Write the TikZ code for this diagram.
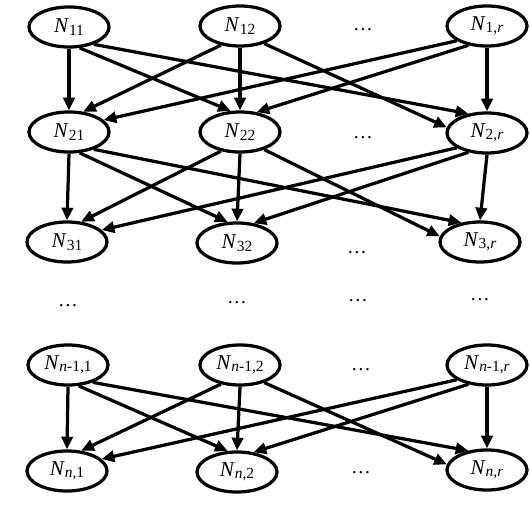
\documentclass[tikz,border=0pt]{standalone}
\usepackage{fontspec}
\setmainfont{Liberation Serif}
\usetikzlibrary{shapes.geometric,arrows.meta}

% rótulo N com índice
\newcommand{\rot}[1]{\textit{N}\raisebox{-0.25ex}{\fontsize{11}{12}\selectfont #1}}

\tikzset{
  elipse/.style={ellipse, draw, line width=2.3pt, minimum width=2cm, minimum height=1cm,
    inner sep=0pt, font=\fontsize{15}{17}\selectfont},
  pontos/.style={font=\fontsize{14}{16}\selectfont},
  seta/.style={line width=2.3pt, -{Triangle[length=9pt,width=8pt]}}
}

\begin{document}
\begin{tikzpicture}[x=0.025cm, y=-0.025cm]
  \useasboundingbox (0,0) rectangle (530,530);

  % Linha 1
  \node[elipse] (n11) at (69,27) {\rot{11}};
  \node[elipse] (n12) at (240,26) {\rot{12}};
  \node[pontos] (d1) at (363,30) {\dots};
  \node[elipse] (n1r) at (487,26) {\rot{1,\textit{r}}};

  % Linha 2
  \node[elipse] (n21) at (69,132) {\rot{21}};
  \node[elipse] (n22) at (240,132) {\rot{22}};
  \node[pontos] (d2) at (363,138) {\dots};
  \node[elipse] (n2r) at (487,133) {\rot{2,\textit{r}}};

  % Linha 3
  \node[elipse] (n31) at (67,242) {\rot{31}};
  \node[elipse] (n32) at (237,243) {\rot{32}};
  \node[pontos] (d3) at (357,253) {\dots};
  \node[elipse] (n3r) at (480,242) {\rot{3,\textit{r}}};

  % Reticências
  \node[pontos] (e1) at (68,306) {\dots};
  \node[pontos] (e2) at (237,303) {\dots};
  \node[pontos] (e3) at (358,301) {\dots};
  \node[pontos] (e4) at (480,300) {\dots};

  % Linha n-1
  \node[elipse] (nm1) at (68,365) {\rot{\textit{n}-1,1}};
  \node[elipse] (nm2) at (240,365) {\rot{\textit{n}-1,2}};
  \node[pontos] (dm) at (361,370) {\dots};
  \node[elipse] (nmr) at (487,365) {\rot{\textit{n}-1,\textit{r}}};

  % Linha n
  \node[elipse] (nn1) at (67,471) {\rot{\textit{n},1}};
  \node[elipse] (nn2) at (237,472) {\rot{\textit{n},2}};
  \node[pontos] (dn) at (361,473) {\dots};
  \node[elipse] (nnr) at (487,470) {\rot{\textit{n},\textit{r}}};

  % Ligações: linha 1 -> linha 2
  \draw[seta] (n11.south) -- (n21.north);
  \draw[seta] (n11.-63) -- (n22.114);
  \draw[seta] (n11.-35) -- (n2r.134);
  \draw[seta] (n12.-135) -- (n21.55);
  \draw[seta] (n12.south) -- (n22.north);
  \draw[seta] (n12.-36) -- (n2r.172);
  \draw[seta] (n1r.-154) -- (n21.19);
  \draw[seta] (n1r.-134) -- (n22.50);
  \draw[seta] (n1r.south) -- (n2r.north);

  % Ligações: linha 2 -> linha 3
  \draw[seta] (n21.south) -- (n31.north);
  \draw[seta] (n21.-63) -- (n32.114);
  \draw[seta] (n21.-35) -- (n3r.134);
  \draw[seta] (n22.-135) -- (n31.55);
  \draw[seta] (n22.south) -- (n32.north);
  \draw[seta] (n22.-36) -- (n3r.172);
  \draw[seta] (n2r.-154) -- (n31.19);
  \draw[seta] (n2r.-134) -- (n32.50);
  \draw[seta] (n2r.south) -- (n3r.north);

  % Ligações: linha n-1 -> linha n
  \draw[seta] (nm1.south) -- (nn1.north);
  \draw[seta] (nm1.-63) -- (nn2.114);
  \draw[seta] (nm1.-35) -- (nnr.134);
  \draw[seta] (nm2.-135) -- (nn1.55);
  \draw[seta] (nm2.south) -- (nn2.north);
  \draw[seta] (nm2.-36) -- (nnr.172);
  \draw[seta] (nmr.-154) -- (nn1.19);
  \draw[seta] (nmr.-134) -- (nn2.50);
  \draw[seta] (nmr.south) -- (nnr.north);
\end{tikzpicture}
\end{document}
